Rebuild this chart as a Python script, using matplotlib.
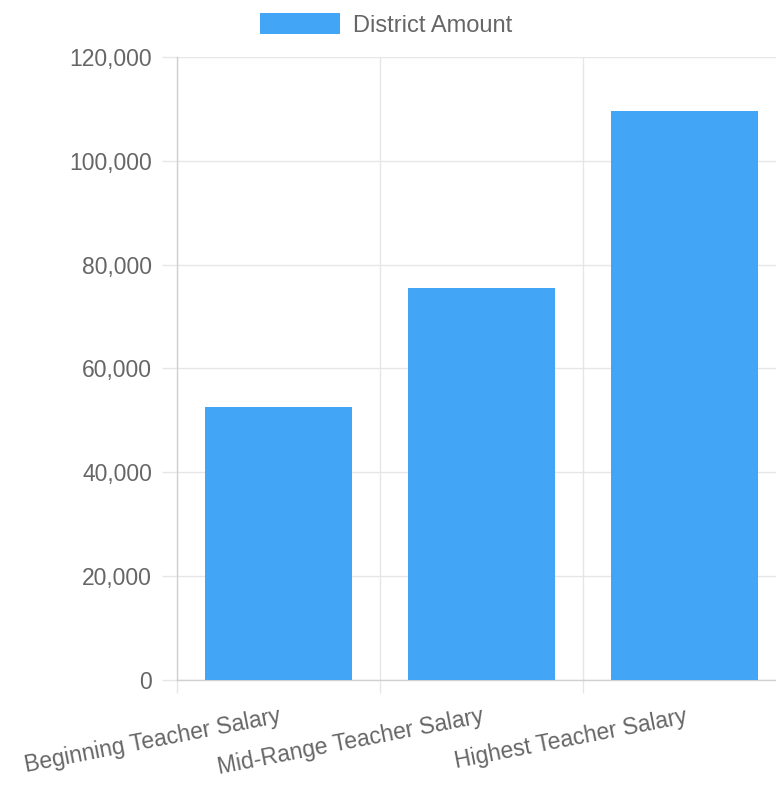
import numpy as np
import matplotlib
matplotlib.use('Agg')
import matplotlib.pyplot as plt
import matplotlib.transforms as mtransforms
from matplotlib.ticker import FuncFormatter

categories = ['Beginning Teacher Salary', 'Mid-Range Teacher Salary', 'Highest Teacher Salary']
district_amount = [52600, 75500, 109600]
series_name = 'District Amount'

bar_color = '#42a5f5'
text_color = '#666666'
grid_color = '#e6e6e6'

plt.rcParams['font.family'] = ['Liberation Sans', 'DejaVu Sans']

fig = plt.figure(figsize=(7.76, 7.85), dpi=100)
W, H = 776, 785
# plot area runs slightly past the right edge of the canvas, as in the original
ax = fig.add_axes([177 / W, 1 - 680 / H, 609 / W, (680 - 57) / H])

x = np.arange(len(categories))
bars = ax.bar(x, district_amount, width=0.72, color=bar_color, label=series_name, zorder=3)

ax.set_xlim(-0.5, len(categories) - 0.5)
ax.set_ylim(0, 120000)
ax.set_yticks(np.arange(0, 120001, 20000))
ax.yaxis.set_major_formatter(FuncFormatter(lambda v, p: f'{int(v):,}'))

# category labels at bar centres, grid lines between categories
ax.set_xticks(x)
ax.set_xticklabels(categories, rotation=11, ha='right', rotation_mode='anchor')
offset = mtransforms.ScaledTranslation(6 / 100, 0, fig.dpi_scale_trans)
for lbl in ax.get_xticklabels():
    lbl.set_transform(lbl.get_transform() + offset)
ax.set_xticks(np.arange(-0.5, len(categories), 1.0), minor=True)
ax.tick_params(axis='x', which='major', length=0, pad=18, labelsize=16.5, labelcolor=text_color)
ax.tick_params(axis='x', which='minor', length=9, color=grid_color, width=1)
ax.tick_params(axis='y', length=11, color=grid_color, width=1, pad=7, labelsize=16.5, labelcolor=text_color)

ax.grid(True, axis='y', which='major', color=grid_color, linewidth=1, zorder=0)
ax.grid(True, axis='x', which='minor', color=grid_color, linewidth=1, zorder=0)

for side in ['top', 'right']:
    ax.spines[side].set_visible(False)
for side in ['left', 'bottom']:
    ax.spines[side].set_color('#d0d0d0')
    ax.spines[side].set_linewidth(1)

leg = fig.legend(handles=[bars], labels=[series_name], loc='center', bbox_to_anchor=(386 / W, 1 - 25 / H),
                 frameon=False, fontsize=17, handlelength=3.4, handleheight=1.0, handletextpad=0.55)
for t in leg.get_texts():
    t.set_color(text_color)

fig.savefig('out.png', dpi=100)
